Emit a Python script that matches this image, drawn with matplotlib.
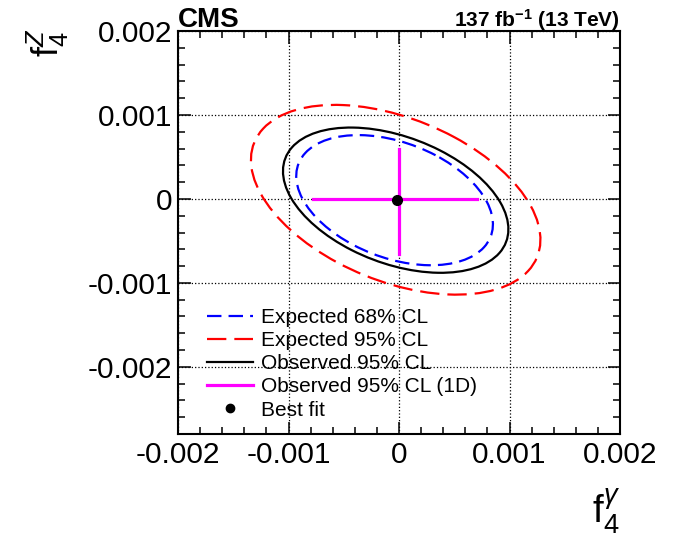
import numpy as np
import matplotlib
matplotlib.use("Agg")
import matplotlib.pyplot as plt
from matplotlib.patches import Ellipse
from matplotlib.lines import Line2D
from matplotlib.ticker import AutoMinorLocator

# contours: centre, half-extent in x / y, correlation
contour_names = ["Expected 68% CL", "Expected 95% CL", "Observed 95% CL"]
contour_cx = [-0.00004, -0.00003, -0.00003]
contour_cy = [-0.000015, -0.00001, -0.000015]
contour_sx = [0.00089, 0.00131, 0.00102]
contour_sy = [0.000775, 0.00113, 0.000865]
contour_rho = [-0.37, -0.42, -0.40]
contour_colors = ["#0000ff", "#ff0000", "black"]
contour_dashes = [(0, (6.5, 3.2)), (0, (8.7, 3.6)), "solid"]

# 1D observed intervals
obs1d_x = [-0.00078, 0.00071]
obs1d_y = [-0.00066, 0.00060]

best_fit_x = [-0.00002]
best_fit_y = [-0.00001]

tick_vals = [-0.002, -0.001, 0, 0.001, 0.002]
tick_labels = ["-0.002", "-0.001", "0", "0.001", "0.002"]

plt.rcParams["font.family"] = ["Liberation Sans", "DejaVu Sans"]
plt.rcParams["mathtext.fontset"] = "custom"
plt.rcParams["mathtext.rm"] = "Liberation Sans"
plt.rcParams["mathtext.it"] = "Liberation Sans:italic"
plt.rcParams["mathtext.bf"] = "Liberation Sans:bold"

fig = plt.figure(figsize=(6.82, 5.47), dpi=100)
ax = fig.add_axes([178/682, 113/547, 442/682, 403/547])

for i in range(len(contour_names)):
    cov = np.array([[contour_sx[i]**2, contour_rho[i]*contour_sx[i]*contour_sy[i]],
                    [contour_rho[i]*contour_sx[i]*contour_sy[i], contour_sy[i]**2]])
    evals, evecs = np.linalg.eigh(cov)
    angle = np.degrees(np.arctan2(evecs[1, 1], evecs[0, 1]))
    e = Ellipse((contour_cx[i], contour_cy[i]), 2*np.sqrt(evals[1]), 2*np.sqrt(evals[0]),
                angle=angle, fill=False, edgecolor=contour_colors[i], lw=1.6,
                linestyle=contour_dashes[i], zorder=3)
    ax.add_patch(e)

ax.plot(obs1d_x, [0, 0], color="#ff00ff", lw=2.3, zorder=4)
ax.plot([0, 0], obs1d_y, color="#ff00ff", lw=2.3, zorder=4)
ax.plot(best_fit_x, best_fit_y, "o", color="black", ms=7, zorder=5)

ax.set_xlim(-0.002, 0.002)
ax.set_ylim(-0.0028, 0.002)
ax.set_xticks(tick_vals, tick_labels)
ax.set_yticks(tick_vals, tick_labels)
ax.xaxis.set_minor_locator(AutoMinorLocator(5))
ax.yaxis.set_minor_locator(AutoMinorLocator(5))
ax.tick_params(which="both", direction="in", top=True, right=True, width=1.1, labelsize=21.5)
ax.tick_params(which="major", length=9)
ax.tick_params(which="minor", length=5)
ax.tick_params(axis="x", pad=5)
ax.tick_params(axis="y", pad=4)
ax.grid(True, which="major", color="black", linestyle=":", lw=0.9)
for s in ax.spines.values():
    s.set_linewidth(1.5)

handles = [
    Line2D([], [], color="#0000ff", lw=1.6, linestyle=(0, (6.5, 3.2))),
    Line2D([], [], color="#ff0000", lw=1.6, linestyle=(0, (8.7, 3.6))),
    Line2D([], [], color="black", lw=1.6),
    Line2D([], [], color="#ff00ff", lw=2.3),
    Line2D([], [], color="black", marker="o", ms=6, linestyle="none"),
]
labels = contour_names + ["Observed 95% CL (1D)", "Best fit"]
ax.legend(handles, labels, loc="upper left", bbox_to_anchor=((207-178)/442, (434-308)/403),
          frameon=False, fontsize=15, handlelength=2.2, handletextpad=0.4,
          labelspacing=0.2, borderpad=0, borderaxespad=0)

ax.text(0.0, (434-27)/403, "CMS", transform=ax.transAxes, fontsize=20, fontweight="bold",
        ha="left", va="baseline")
ax.text(1.0, (434-27)/403, r"137 fb$^{\mathbf{-1}}$ (13 TeV)", transform=ax.transAxes,
        fontsize=15, fontweight="bold", ha="right", va="baseline")

fig.text(620/682, 1 - 512/547, r"$\mathrm{f}_{4}^{\gamma}$", fontsize=28, ha="right", va="center")
fig.text(48/682, 1 - 43/547, r"$\mathrm{f}_{4}^{Z}$", fontsize=26, rotation=90, ha="center", va="center")

fig.savefig("out.png", dpi=100)
